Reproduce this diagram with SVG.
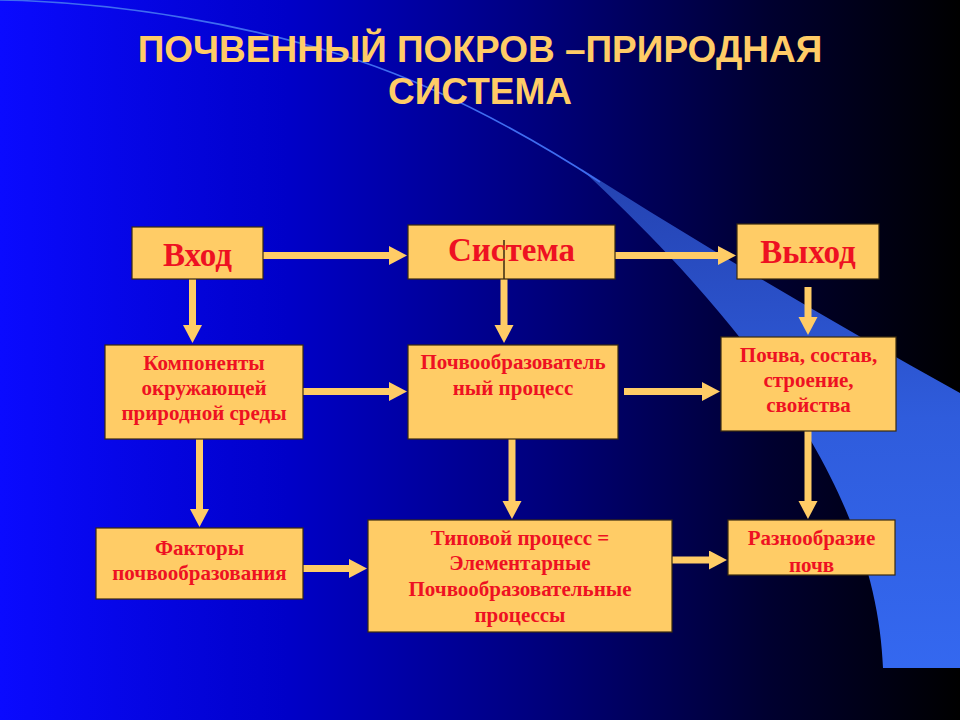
<svg xmlns="http://www.w3.org/2000/svg" width="960" height="720" viewBox="0 0 960 720">
  <defs>
    <linearGradient id="bg" x1="0" y1="0" x2="1" y2="0">
      <stop offset="0" stop-color="#0a0aff"/>
      <stop offset="0.3" stop-color="#0000c8"/>
      <stop offset="0.55" stop-color="#000080"/>
      <stop offset="0.8" stop-color="#000030"/>
      <stop offset="1" stop-color="#000000"/>
    </linearGradient>
    <linearGradient id="band" x1="0" y1="0" x2="0" y2="1">
      <stop offset="0" stop-color="#2442b0"/>
      <stop offset="0.5" stop-color="#2f5cdc"/>
      <stop offset="1" stop-color="#3468f0"/>
    </linearGradient>
    <marker id="head" markerUnits="userSpaceOnUse" markerWidth="20" markerHeight="20" refX="1" refY="9.5" orient="auto">
      <path d="M0,0 L18,9.5 L0,19 Z" fill="#ffcc66"/>
    </marker>
    <style>
      .box { fill: #ffcc66; stroke: #3a2a10; stroke-width: 1.2; }
      .big { font-family: "Liberation Serif", "Times New Roman", serif; font-weight: bold; font-size: 33px; fill: #ee1122; text-anchor: middle; }
      .sm { font-family: "Liberation Serif", "Times New Roman", serif; font-weight: bold; font-size: 21px; fill: #ee1122; text-anchor: middle; }
      .title { font-family: "Liberation Sans", Arial, sans-serif; font-weight: bold; font-size: 37px; fill: #ffcc66; text-anchor: middle; }
      .arr { stroke: #ffcc66; stroke-width: 7; fill: none; marker-end: url(#head); }
    </style>
  </defs>

  <rect x="0" y="0" width="960" height="720" fill="url(#bg)"/>
  <path d="M580,168 Q760,282 960,393 L960,668 L883,668 C878,540 810,380 580,168 Z" fill="url(#band)"/>
  <path d="M0,0 C120,2 250,25 357,60 C440,88 520,130 600,182" fill="none" stroke="#3f6cf0" stroke-width="1.6"/>

  <g id="title">
    <text class="title" x="480" y="62">ПОЧВЕННЫЙ ПОКРОВ –ПРИРОДНАЯ</text>
    <text class="title" x="480" y="104">СИСТЕМА</text>
  </g>

  <g id="connectors">
    <line class="arr" x1="263" y1="255.5" x2="390" y2="255.5"/>
    <line class="arr" x1="615" y1="255.5" x2="719" y2="255.5"/>
    <line class="arr" x1="303" y1="391.5" x2="390" y2="391.5"/>
    <line class="arr" x1="624" y1="391.5" x2="703" y2="391.5"/>
    <line class="arr" x1="303" y1="568.5" x2="350" y2="568.5"/>
    <line class="arr" x1="672" y1="560" x2="710" y2="560"/>
    <line class="arr" x1="192.5" y1="279" x2="192.5" y2="326"/>
    <line class="arr" x1="504" y1="279" x2="504" y2="326"/>
    <line class="arr" x1="808" y1="287" x2="808" y2="318"/>
    <line class="arr" x1="199.5" y1="439" x2="199.5" y2="510"/>
    <line class="arr" x1="512" y1="439" x2="512" y2="502"/>
    <line class="arr" x1="808" y1="431" x2="808" y2="502"/>
  </g>

  <g id="vhod">
    <rect class="box" x="132" y="227" width="131" height="52"/>
    <text class="big" x="197.5" y="266">Вход</text>
  </g>
  <g id="sistema">
    <rect class="box" x="408" y="225" width="207" height="54"/>
    <line x1="504" y1="240" x2="504" y2="279" stroke="#3a2a10" stroke-width="1.5"/>
    <text class="big" x="511.5" y="261">Система</text>
  </g>
  <g id="vyhod">
    <rect class="box" x="737" y="224" width="142" height="55"/>
    <text class="big" x="808" y="263">Выход</text>
  </g>
  <g id="komponenty">
    <rect class="box" x="105" y="345" width="198" height="94"/>
    <text class="sm" x="204" y="370">Компоненты</text>
    <text class="sm" x="204" y="395">окружающей</text>
    <text class="sm" x="204" y="420">природной среды</text>
  </g>
  <g id="pochvoobr">
    <rect class="box" x="408" y="345" width="210" height="94"/>
    <text class="sm" x="513" y="369">Почвообразователь</text>
    <text class="sm" x="513" y="395">ный процесс</text>
  </g>
  <g id="pochva">
    <rect class="box" x="721" y="337" width="175" height="94"/>
    <text class="sm" x="808.5" y="362">Почва, состав,</text>
    <text class="sm" x="808.5" y="387">строение,</text>
    <text class="sm" x="808.5" y="412">свойства</text>
  </g>
  <g id="faktory">
    <rect class="box" x="96" y="528" width="207" height="71"/>
    <text class="sm" x="199.5" y="555">Факторы</text>
    <text class="sm" x="199.5" y="580">почвообразования</text>
  </g>
  <g id="tipovoy">
    <rect class="box" x="368" y="520" width="304" height="112"/>
    <text class="sm" x="520" y="545">Типовой процесс =</text>
    <text class="sm" x="520" y="570">Элементарные</text>
    <text class="sm" x="520" y="596">Почвообразовательные</text>
    <text class="sm" x="520" y="622">процессы</text>
  </g>
  <g id="raznoobrazie">
    <rect class="box" x="728" y="520" width="167" height="55"/>
    <text class="sm" x="811.5" y="545">Разнообразие</text>
    <text class="sm" x="811.5" y="572">почв</text>
  </g>
</svg>
